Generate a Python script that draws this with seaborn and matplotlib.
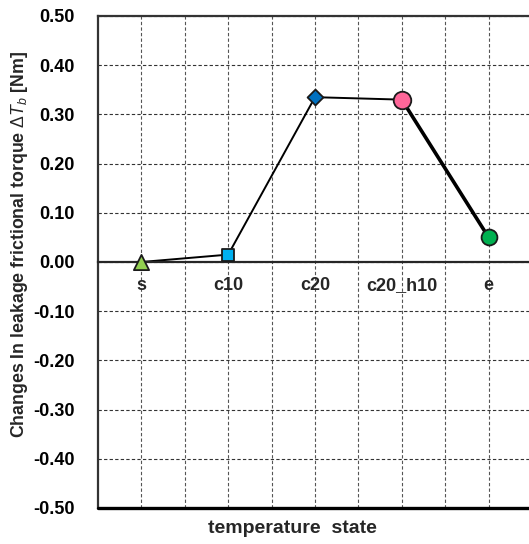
import matplotlib
matplotlib.use("Agg")
import matplotlib.pyplot as plt
import seaborn as sns
import pandas as pd
from matplotlib.ticker import FuncFormatter, FixedLocator

categories = ["s", "c10", "c20", "c20_h10", "e"]
values = [0.0, 0.015, 0.335, 0.330, 0.05]
markers = ["^", "s", "D", "o", "o"]
colors = ["#92D050", "#00B0F0", "#0070C0", "#FF6699", "#00B050"]
sizes = [120, 70, 65, 160, 130]
y_ticks = [-0.5, -0.4, -0.3, -0.2, -0.1, 0.0, 0.1, 0.2, 0.3, 0.4, 0.5]

sns.set_style("white")
plt.rcParams["font.family"] = ["Liberation Sans", "DejaVu Sans"]
plt.rcParams["axes.unicode_minus"] = False
plt.rcParams["mathtext.fontset"] = "custom"
plt.rcParams["mathtext.rm"] = "Liberation Sans"
plt.rcParams["mathtext.it"] = "Liberation Sans:italic"

df = pd.DataFrame({"pos": list(range(len(categories))), "val": values})

fig = plt.figure(figsize=(5.29, 5.44), dpi=100)
ax = fig.add_axes([98 / 529, 36 / 544, 434 / 529, 492 / 544])

# lines
sns.lineplot(data=df, x="pos", y="val", ax=ax, color="black", lw=1.4, zorder=3)
sns.lineplot(data=df.iloc[3:], x="pos", y="val", ax=ax, color="black", lw=2.6, zorder=3)

# markers
for i in range(len(categories)):
    sns.scatterplot(x=[i], y=[values[i]], ax=ax, marker=markers[i], s=sizes[i],
                    color=colors[i], edgecolor="#1a1a1a", linewidth=1.3, zorder=5, legend=False)

ax.set_xlim(-0.5, len(categories) - 0.5)
ax.set_ylim(-0.5, 0.5)

# y axis
ax.yaxis.set_major_locator(FixedLocator(y_ticks))
ax.yaxis.set_major_formatter(FuncFormatter(lambda v, p: f"{v:.2f}" if abs(v) > 1e-9 else "0.00"))
ax.tick_params(axis="y", direction="in", length=4, width=1, labelsize=13, pad=17, colors="black")
for lab in ax.get_yticklabels():
    lab.set_fontweight("bold")

# x axis: spine at zero
ax.spines["bottom"].set_position(("data", 0))
ax.spines["bottom"].set_linewidth(1.6)
ax.spines["bottom"].set_zorder(4)
ax.set_xticks(range(len(categories)))
ax.set_xticklabels(categories, fontsize=13, fontweight="bold")
for lab in ax.get_xticklabels():
    lab.set_va("baseline")
ax.set_xticks([i + 0.5 for i in range(len(categories) - 1)], minor=True)
ax.tick_params(axis="x", which="major", length=0, pad=20)
ax.tick_params(axis="x", which="minor", length=5, width=1.2, direction="in", color="black")

# frame
ax.axhline(-0.5, color="black", lw=2.4, clip_on=False, zorder=4)
ax.spines["left"].set_linewidth(1.6)
ax.spines["left"].set_color("#333333")
ax.spines["top"].set_linewidth(1.6)
ax.spines["top"].set_color("#333333")
ax.spines["right"].set_visible(False)

# grid
ax.grid(True, which="major", axis="y", color="#333333", ls=(0, (3, 2)), lw=0.8)
ax.grid(True, which="both", axis="x", color="#555555", ls=(0, (3, 2)), lw=0.8)
ax.set_axisbelow(True)

ax.set_xlabel("temperature  state", fontsize=14, fontweight="bold", labelpad=0)
ax.xaxis.set_label_coords(0.447, -0.024, transform=ax.transAxes)
ax.set_ylabel(r"Changes In leakage frictional torque $\Delta T_b$ [Nm]", fontsize=12.8, fontweight="bold")
ax.yaxis.set_label_coords(-0.157, 0.535)

fig.savefig("out.png", dpi=100)
